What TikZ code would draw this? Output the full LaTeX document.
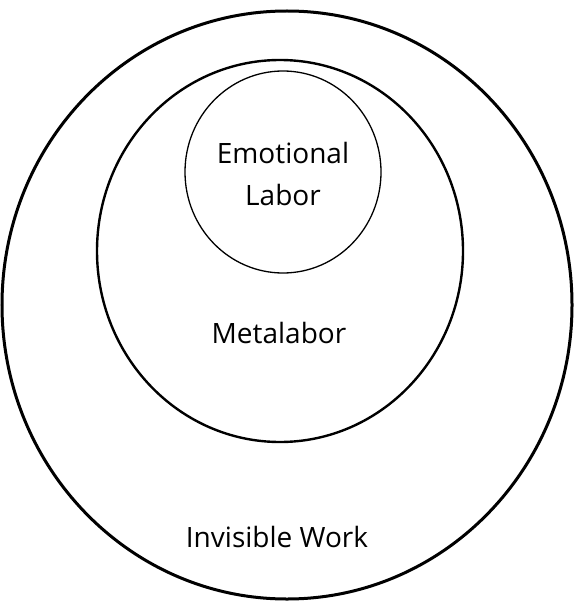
\documentclass[tikz,border=0pt]{standalone}
\usepackage{fontspec}
\setmainfont{Open Sans}
\tikzset{
  label text/.style={font=\fontsize{28}{42}\selectfont, align=center, text=black}
}
\begin{document}
\begin{tikzpicture}[x=1pt,y=-1pt]
                \useasboundingbox (0,0) rectangle (574,604);

                % invisible work
                \draw[line width=3pt] (287,305) ellipse (285 and 294);
                \node[label text] (invisible) at (277,537) {Invisible Work};

                % metalabor
                \draw[line width=2.4pt] (280,251) ellipse (183 and 191);
                \node[label text] (meta) at (279,333) {Metalabor};

                % emotional labor
                \draw[line width=1.3pt] (283,172) ellipse (98 and 101);
                \node[label text] (emotional) at (283,174) {Emotional\\Labor};
            \end{tikzpicture}
\end{document}
